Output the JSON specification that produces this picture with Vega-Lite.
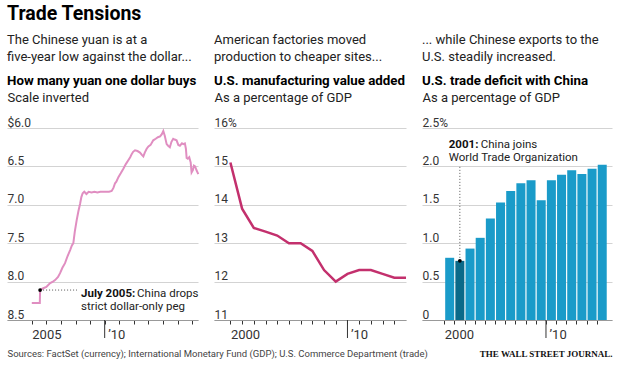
{
  "$schema": "https://vega.github.io/schema/vega-lite/v6.json",
  "background": "white",
  "padding": {"left": 7, "top": 4, "right": 5, "bottom": 5},
  "title": {"text": "Trade Tensions", "anchor": "start", "fontSize": 19.5, "fontWeight": "bold", "color": "#000", "offset": 9, "font": "Roboto, sans-serif"},
  "config": {
    "font": "Roboto, sans-serif",
    "view": {"stroke": null},
    "title": {"anchor": "start", "fontSize": 13, "fontWeight": "normal", "color": "#222", "lineHeight": 17, "subtitleFontSize": 13.3, "subtitleFontWeight": "bold", "subtitleColor": "#000", "subtitlePadding": 10, "offset": 4},
    "axisY": {"domain": false, "ticks": false, "tickCount": 30, "gridColor": "#d3d3d3", "gridWidth": 1, "labelAlign": "left", "labelBaseline": "alphabetic", "labelPadding": 0, "labelOffset": -2, "labelFontSize": 12, "labelColor": "#333", "labelFlush": false, "labelOverlap": false, "titleAngle": 0, "titleX": 0, "titleY": -27, "titleAlign": "left", "titleBaseline": "alphabetic", "titleFontWeight": "normal", "titleFontSize": 13, "titleColor": "#222"},
    "axisX": {"grid": false, "domainColor": "#999", "ticks": true, "tickCount": 30, "tickColor": "#333", "tickSize": 4, "tickWidth": 1, "labelAlign": "left", "labelBaseline": "top", "labelPadding": 4, "labelFontSize": 13, "labelColor": "#333", "labelFlush": false, "labelOverlap": false, "titleAlign": "left", "titleAnchor": "start", "titleX": 0, "titleY": 36, "titleBaseline": "alphabetic", "titleFontWeight": "normal", "titleFontSize": 9.5, "titleColor": "#444"}
  },
  "spacing": 16,
  "bounds": "flush",
  "hconcat": [
    {
      "width": 191,
      "height": 192,
      "title": {"text": ["The Chinese yuan is at a", "five-year low against the dollar..."], "subtitle": "How many yuan one dollar buys"},
      "data": {"values": [
        {"year": 2005.0, "rate": 8.28}, {"year": 2005.55, "rate": 8.28}, {"year": 2005.57, "rate": 8.11}, {"year": 2005.75, "rate": 8.09},
        {"year": 2006.0, "rate": 8.07}, {"year": 2006.26, "rate": 8.02}, {"year": 2006.45, "rate": 8.0}, {"year": 2006.6, "rate": 7.98},
        {"year": 2006.8, "rate": 7.94}, {"year": 2006.94, "rate": 7.89}, {"year": 2007.1, "rate": 7.82}, {"year": 2007.28, "rate": 7.76},
        {"year": 2007.45, "rate": 7.67}, {"year": 2007.63, "rate": 7.59}, {"year": 2007.75, "rate": 7.53}, {"year": 2007.85, "rate": 7.5},
        {"year": 2007.95, "rate": 7.35}, {"year": 2008.08, "rate": 7.2}, {"year": 2008.2, "rate": 7.08}, {"year": 2008.31, "rate": 6.99},
        {"year": 2008.4, "rate": 6.9}, {"year": 2008.49, "rate": 6.85}, {"year": 2008.6, "rate": 6.83}, {"year": 2008.75, "rate": 6.86},
        {"year": 2008.9, "rate": 6.83}, {"year": 2009.1, "rate": 6.84}, {"year": 2009.3, "rate": 6.83}, {"year": 2009.5, "rate": 6.84},
        {"year": 2009.7, "rate": 6.83}, {"year": 2009.9, "rate": 6.83}, {"year": 2010.1, "rate": 6.83}, {"year": 2010.3, "rate": 6.83},
        {"year": 2010.48, "rate": 6.82}, {"year": 2010.6, "rate": 6.78}, {"year": 2010.71, "rate": 6.72}, {"year": 2010.8, "rate": 6.7},
        {"year": 2010.94, "rate": 6.64}, {"year": 2011.1, "rate": 6.59}, {"year": 2011.28, "rate": 6.53}, {"year": 2011.45, "rate": 6.47},
        {"year": 2011.62, "rate": 6.42}, {"year": 2011.75, "rate": 6.38}, {"year": 2011.85, "rate": 6.34}, {"year": 2011.95, "rate": 6.31},
        {"year": 2012.08, "rate": 6.29}, {"year": 2012.25, "rate": 6.3}, {"year": 2012.42, "rate": 6.32}, {"year": 2012.55, "rate": 6.35},
        {"year": 2012.65, "rate": 6.37}, {"year": 2012.75, "rate": 6.32}, {"year": 2012.88, "rate": 6.27}, {"year": 2013.0, "rate": 6.24},
        {"year": 2013.15, "rate": 6.22}, {"year": 2013.33, "rate": 6.16}, {"year": 2013.5, "rate": 6.14}, {"year": 2013.65, "rate": 6.12},
        {"year": 2013.8, "rate": 6.11}, {"year": 2013.92, "rate": 6.08}, {"year": 2014.02, "rate": 6.04}, {"year": 2014.12, "rate": 6.1},
        {"year": 2014.25, "rate": 6.21}, {"year": 2014.35, "rate": 6.23}, {"year": 2014.47, "rate": 6.25}, {"year": 2014.58, "rate": 6.18},
        {"year": 2014.7, "rate": 6.14}, {"year": 2014.8, "rate": 6.15}, {"year": 2014.93, "rate": 6.16}, {"year": 2015.05, "rate": 6.22},
        {"year": 2015.16, "rate": 6.23}, {"year": 2015.3, "rate": 6.2}, {"year": 2015.39, "rate": 6.21}, {"year": 2015.5, "rate": 6.2},
        {"year": 2015.57, "rate": 6.27}, {"year": 2015.62, "rate": 6.39}, {"year": 2015.7, "rate": 6.4}, {"year": 2015.8, "rate": 6.38},
        {"year": 2015.9, "rate": 6.45}, {"year": 2015.96, "rate": 6.58}, {"year": 2016.05, "rate": 6.55}, {"year": 2016.12, "rate": 6.49},
        {"year": 2016.2, "rate": 6.5}, {"year": 2016.3, "rate": 6.55}, {"year": 2016.42, "rate": 6.6}
      ]},
      "layer": [
        {
          "mark": {"type": "line", "color": "#e08ec1", "strokeWidth": 2},
          "encoding": {
            "x": {"field": "year", "type": "quantitative", "scale": {"domain": [2003.3, 2016.4], "nice": false, "zero": false},
              "axis": {"values": [2005, 2006, 2007, 2008, 2009, 2010, 2011, 2012, 2013, 2014, 2015, 2016],
                "labelExpr": "datum.value == 2005 ? '2005' : (datum.value == 2010 ? '’10' : '')",
                "labelOffset": {"condition": {"test": "datum.value == 2010", "value": 3}, "value": 0},
                "title": "Sources: FactSet (currency); International Monetary Fund (GDP); U.S. Commerce Department (trade)"}},
            "y": {"field": "rate", "type": "quantitative", "scale": {"domain": [6, 8.5], "reverse": true, "nice": false, "zero": false},
              "axis": {"values": [6, 6.5, 7, 7.5, 8, 8.5], "labelExpr": "datum.value == 6 ? '$6.0' : format(datum.value, '.1f')", "title": "Scale inverted"}}
          }
        },
        {
          "data": {"values": [{"year": 2010}]},
          "mark": {"type": "rule", "color": "#333", "strokeWidth": 1, "y2Offset": 18},
          "encoding": {"x": {"field": "year", "type": "quantitative"}, "y": {"datum": 8.5}, "y2": {"datum": 8.5}}
        },
        {
          "data": {"values": [{"year": 2005.57, "rate": 8.11}]},
          "layer": [
            {"mark": {"type": "rule", "color": "#555", "strokeDash": [1, 2], "strokeWidth": 1}, "encoding": {"x": {"field": "year", "type": "quantitative"}, "x2": {"datum": 2008.1}, "y": {"field": "rate", "type": "quantitative"}}},
            {"mark": {"type": "point", "filled": true, "color": "#000", "size": 14, "opacity": 1}, "encoding": {"x": {"field": "year", "type": "quantitative"}, "y": {"field": "rate", "type": "quantitative"}}},
            {"mark": {"type": "text", "align": "left", "baseline": "alphabetic", "fontSize": 11.5, "fontWeight": "bold", "color": "#111", "dy": 7}, "encoding": {"x": {"datum": 2008.38}, "y": {"field": "rate", "type": "quantitative"}, "text": {"value": "July 2005:"}}},
            {"mark": {"type": "text", "align": "left", "baseline": "alphabetic", "fontSize": 11.5, "color": "#222", "dy": 7, "dx": 56}, "encoding": {"x": {"datum": 2008.38}, "y": {"field": "rate", "type": "quantitative"}, "text": {"value": "China drops"}}},
            {"mark": {"type": "text", "align": "left", "baseline": "alphabetic", "fontSize": 11.5, "color": "#222", "dy": 20}, "encoding": {"x": {"datum": 2008.38}, "y": {"field": "rate", "type": "quantitative"}, "text": {"value": "strict dollar-only peg"}}}
          ]
        }
      ]
    },
    {
      "width": 192,
      "height": 192,
      "title": {"text": ["American factories moved", "production to cheaper sites..."], "subtitle": "U.S. manufacturing value added"},
      "data": {"values": [
        {"year": 2000, "share": 15.1}, {"year": 2001, "share": 13.9}, {"year": 2002, "share": 13.4}, {"year": 2003, "share": 13.3},
        {"year": 2004, "share": 13.2}, {"year": 2005, "share": 13.0}, {"year": 2006, "share": 13.0}, {"year": 2007, "share": 12.8},
        {"year": 2008, "share": 12.3}, {"year": 2009, "share": 12.0}, {"year": 2010, "share": 12.2}, {"year": 2011, "share": 12.3},
        {"year": 2012, "share": 12.3}, {"year": 2013, "share": 12.2}, {"year": 2014, "share": 12.1}, {"year": 2015, "share": 12.1}
      ]},
      "layer": [
        {
          "mark": {"type": "line", "color": "#c3306d", "strokeWidth": 2.5},
          "encoding": {
            "x": {"field": "year", "type": "quantitative", "scale": {"domain": [1998.6, 2015], "nice": false, "zero": false},
              "axis": {"values": [2000, 2001, 2002, 2003, 2004, 2005, 2006, 2007, 2008, 2009, 2010, 2011, 2012, 2013, 2014],
                "labelExpr": "datum.value == 2000 ? '2000' : (datum.value == 2010 ? '’10' : '')",
                "labelOffset": {"condition": {"test": "datum.value == 2010", "value": 3}, "value": 0},
                "title": null}},
            "y": {"field": "share", "type": "quantitative", "scale": {"domain": [11, 16], "nice": false, "zero": false},
              "axis": {"values": [11, 12, 13, 14, 15, 16], "labelExpr": "datum.value == 16 ? '16%' : format(datum.value, 'd')", "title": "As a percentage of GDP"}}
          }
        },
        {
          "data": {"values": [{"year": 2010}]},
          "mark": {"type": "rule", "color": "#333", "strokeWidth": 1, "y2Offset": 18},
          "encoding": {"x": {"field": "year", "type": "quantitative"}, "y": {"datum": 11}, "y2": {"datum": 11}}
        }
      ]
    },
    {
      "width": 190,
      "height": 192,
      "title": {"text": ["... while Chinese exports to the", "U.S. steadily increased."], "subtitle": "U.S. trade deficit with China"},
      "data": {"values": [
        {"year": 2000, "deficit": 0.81}, {"year": 2001, "deficit": 0.77}, {"year": 2002, "deficit": 0.93}, {"year": 2003, "deficit": 1.07},
        {"year": 2004, "deficit": 1.32}, {"year": 2005, "deficit": 1.53}, {"year": 2006, "deficit": 1.68}, {"year": 2007, "deficit": 1.78},
        {"year": 2008, "deficit": 1.82}, {"year": 2009, "deficit": 1.56}, {"year": 2010, "deficit": 1.82}, {"year": 2011, "deficit": 1.89},
        {"year": 2012, "deficit": 1.95}, {"year": 2013, "deficit": 1.9}, {"year": 2014, "deficit": 1.97}, {"year": 2015, "deficit": 2.02}
      ]},
      "layer": [
        {
          "mark": {"type": "bar", "width": 9, "xOffset": 5.4},
          "encoding": {
            "x": {"field": "year", "type": "quantitative", "scale": {"domain": [1998.3, 2016], "nice": false, "zero": false},
              "axis": {"values": [2000, 2001, 2002, 2003, 2004, 2005, 2006, 2007, 2008, 2009, 2010, 2011, 2012, 2013, 2014, 2015],
                "labelExpr": "datum.value == 2000 ? '2000' : (datum.value == 2010 ? '’10' : '')",
                "labelOffset": {"condition": {"test": "datum.value == 2010", "value": 3}, "value": 0},
                "title": "THE WALL STREET JOURNAL.", "titleX": 190, "titleAlign": "right", "titleAnchor": "end", "titleFont": "Liberation Serif, DejaVu Serif, serif", "titleFontWeight": "bold", "titleFontSize": 9, "titleColor": "#111"}},
            "y": {"field": "deficit", "type": "quantitative", "scale": {"domain": [0, 2.5], "nice": false},
              "axis": {"values": [0, 0.5, 1, 1.5, 2, 2.5], "labelExpr": "datum.value == 2.5 ? '2.5%' : (datum.value == 0 ? '0' : format(datum.value, '.1f'))", "title": "As a percentage of GDP"}},
            "color": {"condition": {"test": "datum.year == 2001", "value": "#0b6a89"}, "value": "#1a9bc9"}
          }
        },
        {
          "data": {"values": [{"year": 2010}]},
          "mark": {"type": "rule", "color": "#333", "strokeWidth": 1, "y2Offset": 18},
          "encoding": {"x": {"field": "year", "type": "quantitative"}, "y": {"datum": 0}, "y2": {"datum": 0}}
        },
        {
          "data": {"values": [{"year": 2001, "deficit": 0.77}]},
          "layer": [
            {"mark": {"type": "rule", "color": "#555", "strokeDash": [1, 2], "strokeWidth": 1, "xOffset": 5.4}, "encoding": {"x": {"field": "year", "type": "quantitative"}, "y": {"field": "deficit", "type": "quantitative"}, "y2": {"datum": 2.02}}},
            {"mark": {"type": "point", "filled": true, "color": "#000", "size": 14, "opacity": 1, "xOffset": 5.4}, "encoding": {"x": {"field": "year", "type": "quantitative"}, "y": {"field": "deficit", "type": "quantitative"}}},
            {"mark": {"type": "text", "align": "left", "baseline": "alphabetic", "fontSize": 11.5, "fontWeight": "bold", "color": "#111"}, "encoding": {"x": {"datum": 2000.44}, "y": {"datum": 2.24}, "text": {"value": "2001:"}}},
            {"mark": {"type": "text", "align": "left", "baseline": "alphabetic", "fontSize": 11.5, "color": "#222", "dx": 32}, "encoding": {"x": {"datum": 2000.44}, "y": {"datum": 2.24}, "text": {"value": "China joins"}}},
            {"mark": {"type": "text", "align": "left", "baseline": "alphabetic", "fontSize": 11.5, "color": "#222", "dy": 13}, "encoding": {"x": {"datum": 2000.44}, "y": {"datum": 2.24}, "text": {"value": "World Trade Organization"}}}
          ]
        }
      ]
    }
  ]
}
